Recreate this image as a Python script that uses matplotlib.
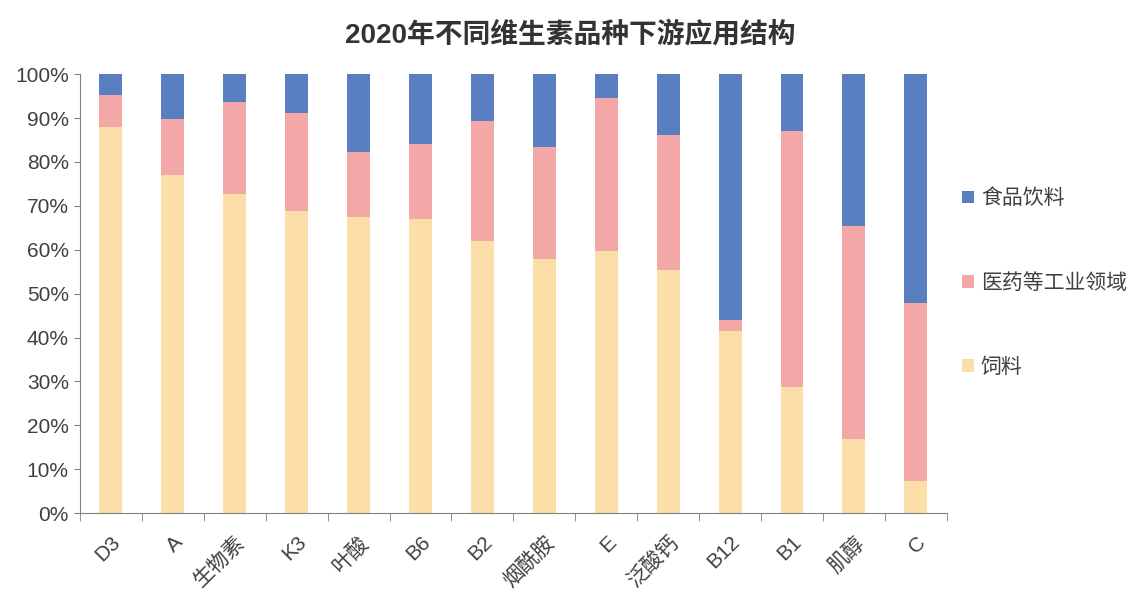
import matplotlib.pyplot as plt
import numpy as np
from matplotlib.patches import Patch

plt.rcParams['font.family'] = ['Liberation Sans', 'Noto Sans CJK SC']

# categories and shares (%)
vitamins = ['D3', 'A', '生物素', 'K3', '叶酸', 'B6', 'B2', '烟酰胺', 'E', '泛酸钙', 'B12', 'B1', '肌醇', 'C']
feed = [88.0, 77.1, 72.7, 68.8, 67.5, 67.0, 62.0, 57.9, 59.7, 55.5, 41.5, 28.8, 16.8, 7.3]
pharma = [7.2, 12.7, 21.0, 22.4, 14.7, 17.1, 27.3, 25.5, 34.9, 30.6, 2.5, 58.2, 48.6, 40.5]
food = [4.8, 10.2, 6.3, 8.8, 17.8, 15.9, 10.7, 16.6, 5.4, 13.9, 56.0, 13.0, 34.6, 52.3]

series_names = ['食品饮料', '医药等工业领域', '饲料']
colors = ['#5a7fc0', '#f3a7a7', '#fbdea8']
text_col = '#404040'

fig = plt.figure(figsize=(11.36, 6.08), dpi=100)
ax = fig.add_axes([0.0704, 0.156, 0.763, 0.722])

x = np.arange(len(vitamins))
w = 0.37
ax.bar(x, feed, w, color=colors[2])
ax.bar(x, pharma, w, bottom=feed, color=colors[1])
ax.bar(x, food, w, bottom=np.array(feed) + np.array(pharma), color=colors[0])

ax.set_xlim(-0.5, len(vitamins) - 0.5)
ax.set_ylim(0, 100)
ax.set_yticks(np.arange(0, 101, 10))
ax.set_yticklabels([f'{v}%' for v in range(0, 101, 10)], fontsize=15, color=text_col)

ax.set_xticks(x)
ax.set_xticklabels(vitamins, rotation=45, ha='right', rotation_mode='anchor',
                   fontsize=15, color=text_col)
ax.tick_params(axis='x', which='major', length=0, pad=14)
ax.set_xticks(np.arange(-0.5, len(vitamins), 1), minor=True)
ax.tick_params(axis='x', which='minor', length=6, color='#808080')
ax.tick_params(axis='y', length=4, color='#808080', pad=4)

for s in ['top', 'right']:
    ax.spines[s].set_visible(False)
for s in ['left', 'bottom']:
    ax.spines[s].set_color('#808080')

fig.text(0.502, 0.942, '2020年不同维生素品种下游应用结构', ha='center', va='center',
         fontsize=20, fontweight='bold', color='#333333')

handles = [Patch(facecolor=c) for c in colors]
fig.legend(handles, series_names, loc='center left', bbox_to_anchor=(0.836, 0.535),
           frameon=False, fontsize=15, labelspacing=3.1, handlelength=0.55,
           handleheight=0.55, handletextpad=0.35, borderaxespad=0.2,
           labelcolor=text_col)

fig.savefig('out.png', dpi=100)
